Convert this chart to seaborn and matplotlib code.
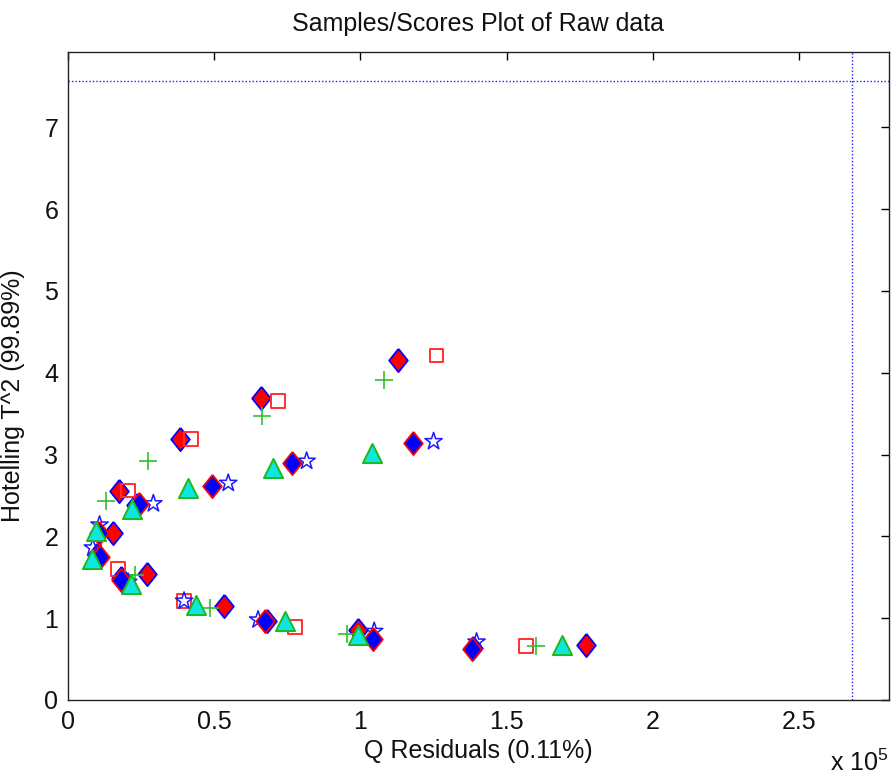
import numpy as np
import pandas as pd
import matplotlib
matplotlib.use("Agg")
import matplotlib.pyplot as plt
import seaborn as sns

# ---- data (Q residuals in units of 1e5, Hotelling T^2) ----
a_q = [1.13, 0.66, 0.383, 0.174, 0.155, 0.100, 0.232, 0.180, 0.269, 0.535, 0.680, 0.993, 1.385, 1.77]
a_t = [4.15, 3.69, 3.19, 2.56, 2.04, 1.77, 2.38, 1.49, 1.54, 1.15, 0.97, 0.86, 0.64, 0.67]

d_q = [1.26, 0.717, 0.42, 0.205, 0.172, 0.397, 0.776, 1.566]
d_t = [4.21, 3.65, 3.19, 2.56, 1.60, 1.21, 0.89, 0.66]

c_q = [1.08, 0.663, 0.275, 0.13, 0.229, 0.486, 0.953, 1.60]
c_t = [3.91, 3.47, 2.92, 2.43, 1.53, 1.12, 0.81, 0.66]

e_q = [1.25, 0.816, 0.548, 0.292, 0.108, 0.085, 0.206, 0.397, 0.650, 1.047, 1.397]
e_t = [3.16, 2.92, 2.65, 2.40, 2.14, 1.86, 1.44, 1.21, 0.98, 0.84, 0.71]

b_q = [1.18, 0.766, 0.492, 0.244, 0.105, 0.108, 0.183, 0.673, 1.044, 1.38]
b_t = [3.14, 2.90, 2.62, 2.39, 2.04, 1.75, 1.47, 0.96, 0.75, 0.62]

f_q = [1.038, 0.70, 0.409, 0.218, 0.097, 0.081, 0.216, 0.438, 0.742, 0.993, 1.69]
f_t = [3.02, 2.83, 2.59, 2.33, 2.07, 1.72, 1.42, 1.16, 0.96, 0.79, 0.67]

q_limit = 2.68
t2_limit = 7.56

title = "Samples/Scores Plot of Raw data"
xlabel = "Q Residuals (0.11%)"
ylabel = "Hotelling T^2 (99.89%)"
xticks = [0, 0.5, 1, 1.5, 2, 2.5]
xtick_labels = ["0", "0.5", "1", "1.5", "2", "2.5"]
yticks = [0, 1, 2, 3, 4, 5, 6, 7]
ytick_labels = ["0", "1", "2", "3", "4", "5", "6", "7"]

# ---- style ----
sns.set_theme(style="white")
plt.rcParams["font.family"] = ["Liberation Sans", "DejaVu Sans"]
plt.rcParams["mathtext.fontset"] = "custom"
plt.rcParams["mathtext.rm"] = "Liberation Sans"
plt.rcParams["mathtext.it"] = "Liberation Sans"

fig = plt.figure(figsize=(8.93, 7.76), dpi=100)
ax = fig.add_axes([0.0761, 0.098, 0.9194, 0.835])

diamond = [(0, 1), (0.8, 0), (0, -1), (-0.8, 0), (0, 1)]

def dfm(q, t):
    return pd.DataFrame({"q": q, "t": t})

sns.scatterplot(data=dfm(a_q, a_t), x="q", y="t", marker=diamond, s=280,
                color="#ff0000", edgecolor="#0000ff", linewidth=1.3, ax=ax, zorder=3)
sns.scatterplot(data=dfm(d_q, d_t), x="q", y="t", marker="s", s=100,
                facecolor="none", edgecolor="#ff3030", linewidth=1.4, ax=ax, zorder=4)
sns.scatterplot(data=dfm(c_q, c_t), x="q", y="t", marker="+", s=160,
                color="#2ec02e", edgecolor="#2ec02e", linewidth=1.2, ax=ax, zorder=5)
sns.scatterplot(data=dfm(e_q, e_t), x="q", y="t", marker="*", s=170,
                facecolor="none", edgecolor="#1a1aff", linewidth=1.1, ax=ax, zorder=6)
sns.scatterplot(data=dfm(b_q, b_t), x="q", y="t", marker=diamond, s=280,
                color="#0000ff", edgecolor="#ff0000", linewidth=1.3, ax=ax, zorder=7)
sns.scatterplot(data=dfm(f_q, f_t), x="q", y="t", marker="^", s=190,
                color="#10e6e0", edgecolor="#1cb81c", linewidth=1.4, ax=ax, zorder=8)

ax.axhline(t2_limit, color="#2020ff", linestyle=(0, (1, 1.5)), linewidth=1.0, zorder=2)
ax.axvline(q_limit, color="#2020ff", linestyle=(0, (1, 1.5)), linewidth=1.0, zorder=2)

ax.set_xlim(0, 2.807)
ax.set_ylim(0, 7.92)
ax.set_xticks(xticks)
ax.set_xticklabels(xtick_labels)
ax.set_yticks(yticks)
ax.set_yticklabels(ytick_labels)
ax.tick_params(axis="both", direction="in", length=6, width=1, color="black",
               labelsize=18, top=True, right=True, labelcolor="#111111", pad=7)
for sp in ax.spines.values():
    sp.set_color("#222222")
    sp.set_linewidth(1.0)
    sp.set_visible(True)

ax.set_title(title, fontsize=18, pad=15, color="#111111")
ax.set_xlabel(xlabel, fontsize=18, labelpad=4, color="#111111")
ax.set_ylabel(ylabel, fontsize=18, color="#111111")
ax.yaxis.set_label_coords(-0.052, 0.47)

fig.text(0.93, 0.006, r"x 10$^{5}$", fontsize=18, color="#111111")

fig.savefig("out.png", dpi=100)
